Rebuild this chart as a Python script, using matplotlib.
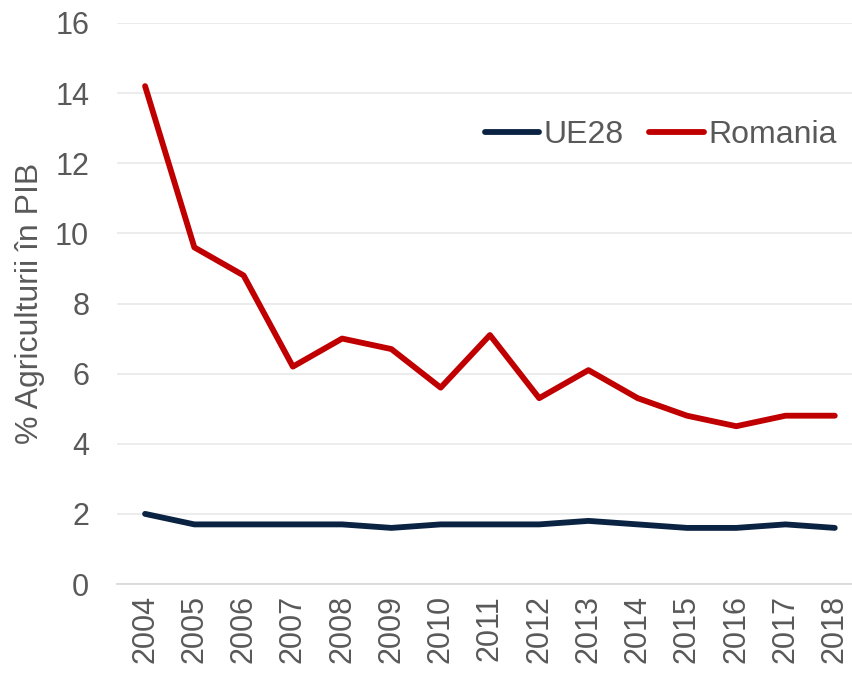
import matplotlib.pyplot as plt

years = ["2004", "2005", "2006", "2007", "2008", "2009", "2010", "2011",
         "2012", "2013", "2014", "2015", "2016", "2017", "2018"]
ue28 = [2.0, 1.7, 1.7, 1.7, 1.7, 1.6, 1.7, 1.7, 1.7, 1.8, 1.7, 1.6, 1.6, 1.7, 1.6]
romania = [14.2, 9.6, 8.8, 6.2, 7.0, 6.7, 5.6, 7.1, 5.3, 6.1, 5.3, 4.8, 4.5, 4.8, 4.8]

plt.rcParams['font.family'] = ['Liberation Sans', 'DejaVu Sans']
grey = "#595959"

fig = plt.figure(figsize=(8.53, 6.76), dpi=100)
ax = fig.add_axes([117 / 853, 92 / 676, 736 / 853, 561 / 676])

x = range(len(years))
ax.plot(x, ue28, color="#0B2343", linewidth=4.2, label="UE28",
        solid_capstyle="round", solid_joinstyle="round", zorder=3)
ax.plot(x, romania, color="#C00000", linewidth=4.2, label="Romania",
        solid_capstyle="round", solid_joinstyle="round", zorder=3)

ax.set_ylim(0, 16)
ax.set_yticks(range(0, 17, 2))
ax.set_xlim(-0.57, 14.37)
ax.set_xticks(list(x))
ax.set_xticklabels(years, rotation=90)

ax.tick_params(axis="both", length=0, labelsize=22, labelcolor=grey)
ax.tick_params(axis="y", pad=20)
ax.tick_params(axis="x", pad=8)
ax.set_ylabel("% Agriculturii în PIB", fontsize=23, color=grey)
ax.yaxis.set_label_coords(-72 / 736, 0.5)

ax.grid(axis="y", color="#EBEBEB", linewidth=1.3)
ax.set_axisbelow(True)
for s in ["top", "right", "left"]:
    ax.spines[s].set_visible(False)
ax.spines["bottom"].set_color("#D9D9D9")
ax.spines["bottom"].set_linewidth(1.3)

leg = ax.legend(loc="center right", bbox_to_anchor=(1.0, 0.8), ncol=2, frameon=False,
                fontsize=23, handlelength=1.7, handletextpad=0.15, columnspacing=0.8,
                borderaxespad=0.1)
for t in leg.get_texts():
    t.set_color(grey)

fig.savefig("out.png", dpi=100)
